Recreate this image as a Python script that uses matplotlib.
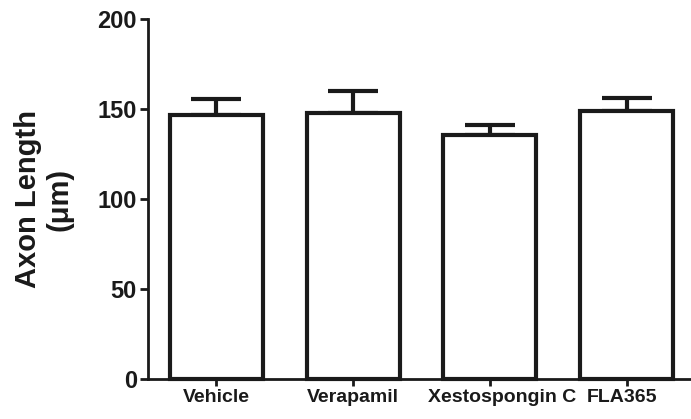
import matplotlib
matplotlib.use("Agg")
import matplotlib.pyplot as plt

categories = ["Vehicle", "Verapamil", "Xestospongin C", "FLA365"]
means = [146.5, 147.8, 135.5, 148.9]
errors = [9.0, 12.2, 5.5, 7.4]
yticks = [0, 50, 100, 150, 200]

plt.rcParams['font.family'] = ['Liberation Sans', 'DejaVu Sans']
ink = "#1a1a1a"

fig = plt.figure(figsize=(6.91, 4.19), dpi=100)
ax = fig.add_axes([0.214, 0.0955, 0.786, 0.8592])

x = list(range(len(categories)))
ax.bar(x, means, width=0.68, color="white", edgecolor=ink, linewidth=3.0,
       zorder=3, clip_on=False)
ax.errorbar(x, means, yerr=[[0]*len(errors), errors], fmt="none", ecolor=ink,
            elinewidth=3.0, capsize=18, capthick=3.0, zorder=2, clip_on=False)

ax.set_xlim(-0.5, 3.47)
ax.set_ylim(0, 200)
ax.set_yticks(yticks)
ax.set_yticklabels([str(v) for v in yticks], fontsize=17, fontweight="bold", color=ink)
ax.set_xticks(x)
ax.set_xticklabels([""] * len(categories))
ax.set_ylabel("Axon Length\n(μm)", fontsize=21, fontweight="bold", color=ink,
              labelpad=17, linespacing=1.17)

# category labels, with small horizontal nudges for the crowded ones (points)
nudges = [0, 0, 8.5, -3.5]
for xi, name, dx in zip(x, categories, nudges):
    ax.annotate(name, xy=(xi, 0), xycoords=ax.get_xaxis_transform(),
                xytext=(dx, -7), textcoords="offset points",
                ha="center", va="top", fontsize=14, fontweight="bold", color=ink,
                annotation_clip=False)

for s in ["top", "right"]:
    ax.spines[s].set_visible(False)
for s in ["left", "bottom"]:
    ax.spines[s].set_linewidth(2.0)
    ax.spines[s].set_color(ink)
ax.tick_params(axis="y", direction="out", length=6, width=2.0, color=ink, pad=2)
ax.tick_params(axis="x", direction="out", length=5, width=2.0, color=ink, pad=3)

fig.savefig("out.png", dpi=100)
